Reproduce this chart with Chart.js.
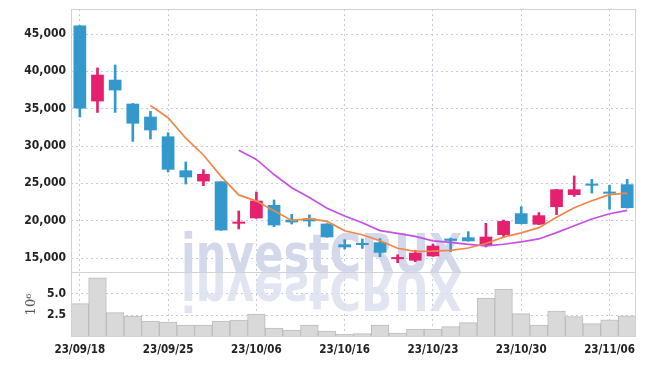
<!DOCTYPE html>
<html>
<head>
<meta charset="utf-8">
<script src="https://cdn.jsdelivr.net/npm/chart.js@4.4.0/dist/chart.umd.min.js"></script>
<style>
html, body { margin: 0; padding: 0; background: #fff; }
</style>
</head>
<body>
<canvas id="mycanvas" width="645" height="366"></canvas>
<script>
// trading days (yy/mm/dd)
var dates = ["23/09/18","23/09/19","23/09/20","23/09/21","23/09/22",
	"23/09/25","23/09/26","23/09/27","23/10/04","23/10/05",
	"23/10/06","23/10/10","23/10/11","23/10/12","23/10/13",
	"23/10/16","23/10/17","23/10/18","23/10/19","23/10/20",
	"23/10/23","23/10/24","23/10/25","23/10/26","23/10/27",
	"23/10/30","23/10/31","23/11/01","23/11/02","23/11/03",
	"23/11/06","23/11/07"];

var open  = [46150,35975,38880,35670,33930,31290,26740,25260,25260,19600,
	20310,22100,20130,20310,19600,16830,16920,17100,14850,14650,
	15220,17600,17770,16660,18080,20990,19470,21820,23440,24960,
	23700,24870];
var high  = [46150,40450,40850,35700,34640,31780,27860,26830,25260,21300,
	23840,22770,20850,20770,19600,17460,17550,17590,15440,16020,
	16880,17660,18530,19640,20090,21880,21080,24200,25990,25530,
	24740,25530];
var low   = [33890,34500,34500,30620,30940,26520,24910,24690,18700,18890,
	20310,19200,19550,19240,17770,16210,16290,15180,14370,14500,
	15220,15840,17240,16480,17860,19560,19470,20810,23250,23700,
	21530,21690];
var close = [35040,39550,37450,33000,32100,26830,25800,26250,18700,19650,
	22680,19370,19770,19910,17770,16430,16740,15710,14870,15700,
	16650,17300,17240,17860,19950,19560,20720,24200,24200,24690,
	23620,21690];

// volume, millions
var volume = [3.82,6.77,2.79,2.41,1.83,1.72,1.38,1.38,1.83,1.95,
	2.64,1.03,0.80,1.38,0.69,0.34,0.38,1.38,0.46,0.92,
	0.92,1.18,1.64,4.47,5.50,2.67,1.38,2.98,2.33,1.53,
	1.98,2.44];

// moving averages
var ma5 = [null,null,null,null,35430,33790,31040,28800,25940,23450,
	22620,21330,20030,20280,19900,18650,18120,17310,16300,15890,
	15930,16030,16340,16940,17790,18370,19070,20460,21730,22670,
	23490,23680];
var ma10 = [null,null,null,null,null,null,null,null,null,29440,
	28200,26180,24420,23110,21670,20630,19730,18670,18290,17890,
	17290,17080,16830,16620,16840,17150,17550,18400,19330,20230,
	20930,21370];

var priceTicks = [15000,20000,25000,30000,35000,40000,45000];
var volTicks = [2.5,5.0];

var upColor = "#e5206e";
var downColor = "#3399cc";
var gridColor = "#c6c9da";
var fontFamily = '"DejaVu Sans Condensed", "Liberation Sans Narrow", sans-serif';

var candleColors = [];
for (var i in close) {
	candleColors.push(close[i] >= open[i] ? upColor : downColor);
}

var bodies = [];
var wicks = [];
for (var i in close) {
	bodies.push([open[i], close[i]]);
	wicks.push([low[i], high[i]]);
}

var decor = {
	id: "decor",
	beforeDatasetsDraw: function(chart) {
		var ctx = chart.ctx;
		var base = chart.scales.y.bottom;
		ctx.save();
		ctx.font = 'bold 53px "DejaVu Sans", sans-serif';
		var w = ctx.measureText("investCRUX").width;
		ctx.translate(181, base);
		ctx.scale(281 / w, 1);
		ctx.fillStyle = "rgba(206,212,232,0.9)";
		ctx.fillText("investCRUX", 0, 0);
		ctx.scale(1, -1);
		ctx.fillStyle = "rgba(218,222,238,0.8)";
		ctx.fillText("investCRUX", 0, 0);
		ctx.restore();
	},
	afterDatasetsDraw: function(chart) {
		var ctx = chart.ctx;
		var a = chart.chartArea;
		var sep = Math.round(chart.scales.y.bottom) + 0.5;
		ctx.save();
		ctx.strokeStyle = "#d2d2d2";
		ctx.lineWidth = 1;
		ctx.strokeRect(Math.round(a.left) + 0.5, Math.round(a.top) + 0.5,
			Math.round(a.right - a.left) - 1, Math.round(a.bottom - a.top) - 1);
		ctx.beginPath();
		ctx.moveTo(a.left, sep);
		ctx.lineTo(a.right, sep);
		ctx.stroke();
		ctx.restore();
	}
};

var ctx = document.getElementById("mycanvas");

var chart = new Chart(ctx, {
	type: "bar",
	data: {
		labels: dates,
		datasets: [
			{
				type: "line",
				data: ma5,
				yAxisID: "y",
				borderColor: "#f0874a",
				borderWidth: 1.7,
				pointRadius: 0,
				tension: 0,
				order: 0
			},
			{
				type: "line",
				data: ma10,
				yAxisID: "y",
				borderColor: "#c552e6",
				borderWidth: 1.7,
				pointRadius: 0,
				tension: 0,
				order: 0
			},
			{
				data: bodies,
				yAxisID: "y",
				backgroundColor: candleColors,
				grouped: false,
				categoryPercentage: 1,
				barPercentage: 0.72,
				minBarLength: 2,
				order: 1
			},
			{
				data: wicks,
				yAxisID: "y",
				backgroundColor: candleColors,
				grouped: false,
				barThickness: 2,
				order: 2
			},
			{
				data: volume,
				yAxisID: "yv",
				backgroundColor: "#d9d9d9",
				borderColor: "#bcbcbc",
				borderWidth: 1,
				grouped: false,
				categoryPercentage: 1,
				barPercentage: 1,
				order: 3
			}
		]
	},
	options: {
		responsive: false,
		animation: false,
		layout: { padding: { top: 9, right: 9, left: 0, bottom: 0 } },
		plugins: {
			legend: { display: false },
			tooltip: { enabled: false }
		},
		scales: {
			x: {
				offset: true,
				grid: {
					offset: false,
					drawTicks: false,
					color: function(c) { return c.index % 5 === 0 ? gridColor : "rgba(0,0,0,0)"; }
				},
				border: { display: false, dash: [2, 3] },
				ticks: {
					autoSkip: false,
					maxRotation: 0,
					padding: 6,
					color: "#222",
					font: { family: fontFamily, size: 11.5, weight: "bold" },
					callback: function(v, i) { return i % 5 === 0 ? dates[i] : ""; }
				},
				afterFit: function(s) { s.height = 29; s.paddingLeft = 0; s.paddingRight = 0; }
			},
			yv: {
				position: "left",
				stack: "panes",
				stackWeight: 65,
				min: 0,
				max: 7.45,
				afterBuildTicks: function(s) {
					s.ticks = volTicks.map(function(v) { return { value: v }; });
				},
				grid: { drawTicks: false, color: gridColor },
				border: { display: false, dash: [2, 3] },
				ticks: {
					padding: 5,
					color: "#222",
					font: { family: fontFamily, size: 12, weight: "bold" },
					callback: function(v) { return Number(v).toFixed(1); }
				},
				title: {
					display: true,
					text: "10\u2076",
					color: "#555",
					font: { family: '"DejaVu Serif", serif', size: 13 },
					padding: { top: 24, bottom: 0 }
				},
				afterFit: function(s) { s.width = 71; s.paddingTop = 0; s.paddingBottom = 0; }
			},
			y: {
				position: "left",
				stack: "panes",
				stackWeight: 263,
				min: 13125,
				max: 48350,
				afterBuildTicks: function(s) {
					s.ticks = priceTicks.map(function(v) { return { value: v }; });
				},
				grid: { drawTicks: false, color: gridColor },
				border: { display: false, dash: [2, 3] },
				ticks: {
					padding: 5,
					color: "#222",
					font: { family: fontFamily, size: 12, weight: "bold" },
					callback: function(v) { return Number(v).toLocaleString("en-US"); }
				},
				afterFit: function(s) { s.width = 71; s.paddingTop = 0; s.paddingBottom = 0; }
			}
		}
	},
	plugins: [decor]
});
</script>
</body>
</html>
